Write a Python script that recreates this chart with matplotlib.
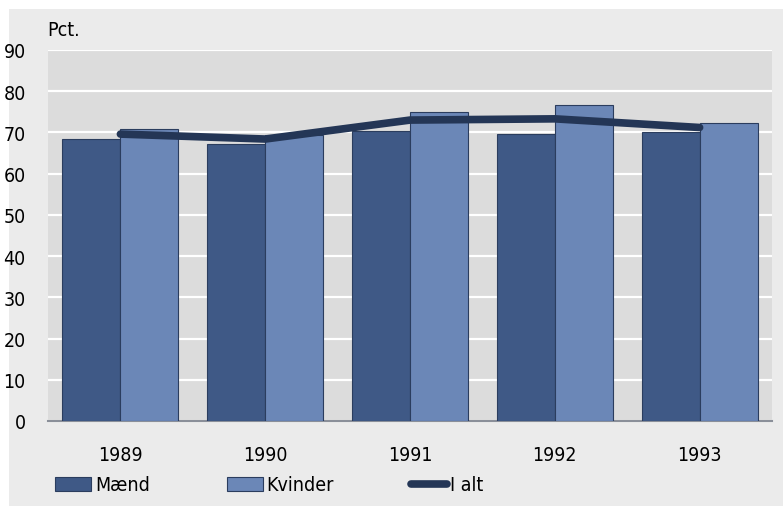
import numpy as np
import matplotlib.pyplot as plt
from matplotlib.patches import Rectangle, Patch
from matplotlib.lines import Line2D

plt.rcParams['font.family'] = ['DejaVu Sans']
plt.rcParams['font.stretch'] = 'condensed'

years = ['1989', '1990', '1991', '1992', '1993']
maend = [68.3, 67.2, 70.4, 69.6, 70.2]
kvinder = [70.8, 69.4, 75.0, 76.7, 72.2]
i_alt = [69.6, 68.4, 73.0, 73.3, 71.2]

c_m = '#3f5986'
c_k = '#6b87b7'
c_line = '#243656'

fig = plt.figure(figsize=(7.83, 5.10), dpi=100, facecolor='white')
# outer grey frame
fig.patches.append(Rectangle((9 / 783, 3 / 510), 774 / 783, 497 / 510,
                             transform=fig.transFigure, fc='#ebebeb', ec='none', zorder=-5))

ax = fig.add_axes([48 / 783, 1 - 422 / 510, 724 / 783, 371 / 510])
ax.set_facecolor('#dcdcdc')

x = np.arange(len(years))
w = 0.4
ax.bar(x - w / 2, maend, w, color=c_m, edgecolor='#2b3d5e', linewidth=0.8, zorder=3)
ax.bar(x + w / 2, kvinder, w, color=c_k, edgecolor='#2b3d5e', linewidth=0.8, zorder=3)
ax.plot(x, i_alt, color=c_line, lw=5.5, solid_capstyle='round', zorder=4)

ax.set_xlim(-0.5, len(years) - 0.5)
ax.set_ylim(0, 90)
ax.set_yticks(range(0, 91, 10))
ax.set_xticks(x)
ax.set_xticklabels(years)
ax.yaxis.grid(True, color='white', lw=1.6, zorder=1)
ax.set_axisbelow(True)
for s in ['top', 'right', 'left']:
    ax.spines[s].set_visible(False)
ax.spines['bottom'].set_color('#8a8f99')
ax.spines['bottom'].set_linewidth(1.5)
ax.tick_params(axis='both', length=0, labelsize=14, colors='black')
ax.tick_params(axis='y', pad=16)
ax.tick_params(axis='x', pad=17)

fig.text(47 / 783, 1 - 30 / 510, 'Pct.', fontsize=14, va='center', ha='left')

handles = [Patch(fc=c_m, ec='#2b3d5e', lw=0.8),
           Patch(fc=c_k, ec='#2b3d5e', lw=0.8),
           Line2D([], [], color=c_line, lw=5.5, solid_capstyle='round')]
fig.legend(handles, ['Mænd', 'Kvinder', 'I alt'], ncol=3, frameon=False,
           loc='center left', bbox_to_anchor=(55 / 783, 1 - 486 / 510),
           fontsize=14, handlelength=1.85, handletextpad=0.2, columnspacing=3.95,
           handleheight=0.75, borderaxespad=0, borderpad=0)

fig.savefig('out.png', dpi=100, facecolor=fig.get_facecolor())
